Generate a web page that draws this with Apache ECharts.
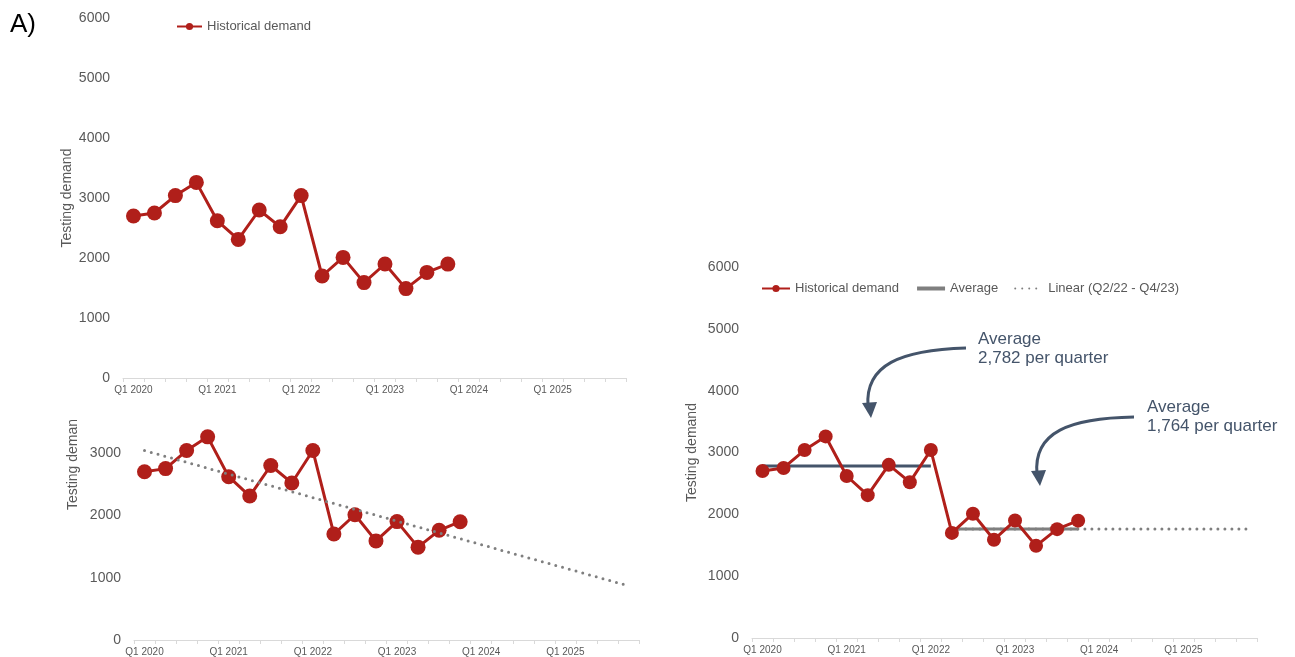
<!DOCTYPE html>
<html>
<head>
<meta charset="utf-8">
<title>Testing demand</title>
<script src="https://cdn.jsdelivr.net/npm/echarts@6/dist/echarts.min.js"></script>
<style>
  html, body { margin: 0; padding: 0; background: #ffffff; }
  #chart { width: 1295px; height: 657px; }
</style>
</head>
<body>
<div id="chart"></div>
<script>
// Quarter categories along the time axis (history plus forecast horizon)
const quarters = [
  'Q1 2020', 'Q2 2020', 'Q3 2020', 'Q4 2020',
  'Q1 2021', 'Q2 2021', 'Q3 2021', 'Q4 2021',
  'Q1 2022', 'Q2 2022', 'Q3 2022', 'Q4 2022',
  'Q1 2023', 'Q2 2023', 'Q3 2023', 'Q4 2023',
  'Q1 2024', 'Q2 2024', 'Q3 2024', 'Q4 2024',
  'Q1 2025', 'Q2 2025', 'Q3 2025', 'Q4 2025'
];

// Historical testing demand per quarter, Q1 2020 .. Q4 2023
const demand = [2700, 2750, 3040, 3260, 2620, 2310, 2800, 2520, 3040,
                1700, 2010, 1590, 1900, 1490, 1760, 1898];

// Period averages and the periods they cover
const averageEarly = 2782;
const earlyPeriod = ['Q1 2020', 'Q1 2022'];
const averageLate = 1764;
const latePeriod = ['Q2 2022', 'Q4 2023'];
const forecastEnd = 'Q4 2025';

// Linear trend over the full history, extended to the end of the horizon
const trendEnds = [3040, 870];

// Y-axis tick settings
const yTickStep = 1000;
const yMaxFull = 6000;
const yMaxCropped = 3530;

const RED = '#B01F1A';
const SLATE = '#44546A';
const GRAY = '#7F7F7F';
const TEXT = '#595959';
const FONT = '"Liberation Sans", Arial, Helvetica, sans-serif';

function xAxisFor(gridIndex) {
  return {
    type: 'category', gridIndex: gridIndex, data: quarters, boundaryGap: true,
    axisLine: { lineStyle: { color: '#D9D9D9', width: 1 } },
    axisTick: { show: true, interval: 0, length: 4, lineStyle: { color: '#D9D9D9' } },
    axisLabel: { interval: 3, color: TEXT, fontSize: 10, fontFamily: FONT, margin: 7 },
    splitLine: { show: false }
  };
}

function yAxisFor(gridIndex, max, withName, nameGap) {
  return {
    type: 'value', gridIndex: gridIndex, min: 0, max: max, interval: yTickStep,
    splitLine: { show: false }, axisLine: { show: false }, axisTick: { show: false },
    axisLabel: {
      color: TEXT, fontSize: 14, fontFamily: FONT, margin: 13,
      showMaxLabel: max % yTickStep === 0,
      formatter: function (v) { return String(v); }
    },
    name: withName ? 'Testing demand' : '',
    nameLocation: 'middle', nameGap: nameGap,
    nameTextStyle: { color: TEXT, fontSize: 14, fontFamily: FONT }
  };
}

function historySeries(axisIndex, size) {
  return {
    name: 'Historical demand', type: 'line',
    xAxisIndex: axisIndex, yAxisIndex: axisIndex,
    data: demand,
    symbol: 'circle', symbolSize: size, showAllSymbol: true,
    lineStyle: { color: RED, width: 3 },
    itemStyle: { color: RED },
    z: 5, animation: false
  };
}

const legendText = { color: TEXT, fontSize: 13, fontFamily: FONT };
const hiddenDot = { color: 'rgba(0,0,0,0)', opacity: 0, borderWidth: 0 };

const option = {
  backgroundColor: '#ffffff',
  animation: false,
  textStyle: { fontFamily: FONT },
  grid: [
    { left: 123, top: 18, width: 503, height: 360 },
    { left: 134, top: 420, width: 505, height: 220 },
    { left: 752, top: 267, width: 505, height: 371 }
  ],
  xAxis: [xAxisFor(0), xAxisFor(1), xAxisFor(2)],
  yAxis: [
    yAxisFor(0, yMaxFull, true, 49),
    yAxisFor(1, yMaxCropped, false, 0),
    yAxisFor(2, yMaxFull, true, 53)
  ],
  legend: [
    {
      left: 171, top: 15, itemWidth: 25, itemHeight: 9, itemGap: 16,
      textStyle: legendText,
      data: ['Historical demand']
    },
    {
      left: 756, top: 277, itemWidth: 28, itemHeight: 9, itemGap: 16,
      textStyle: legendText,
      data: [
        'Historical demand',
        { name: 'Average', itemStyle: hiddenDot, lineStyle: { width: 4 } },
        { name: 'Linear (Q2/22 - Q4/23)', itemStyle: hiddenDot }
      ]
    }
  ],
  series: [
    // top-left: history only
    historySeries(0, 15),

    // bottom-left: history with linear trend
    historySeries(1, 15),
    {
      name: 'Linear trend', type: 'line', xAxisIndex: 1, yAxisIndex: 1,
      data: [[quarters[0], trendEnds[0]], [forecastEnd, trendEnds[1]]],
      symbol: 'none',
      lineStyle: { color: GRAY, width: 3, type: [0, 7], cap: 'round' },
      z: 6, silent: true
    },

    // right: history with period averages
    {
      name: 'Average Q1/20 - Q1/22', type: 'line', xAxisIndex: 2, yAxisIndex: 2,
      data: [[earlyPeriod[0], averageEarly], [earlyPeriod[1], averageEarly]],
      symbol: 'none', lineStyle: { color: SLATE, width: 3 }, z: 3
    },
    {
      name: 'Linear (Q2/22 - Q4/23)', type: 'line', xAxisIndex: 2, yAxisIndex: 2,
      data: [[latePeriod[0], averageLate], [forecastEnd, averageLate]],
      symbol: 'none',
      itemStyle: { color: GRAY },
      lineStyle: { color: GRAY, width: 3, type: [0, 7], cap: 'round' }, z: 3
    },
    {
      name: 'Average', type: 'line', xAxisIndex: 2, yAxisIndex: 2,
      data: [[latePeriod[0], averageLate], [latePeriod[1], averageLate]],
      symbol: 'none',
      itemStyle: { color: GRAY },
      lineStyle: { color: GRAY, width: 3 }, z: 4
    },
    historySeries(2, 14)
  ],
  graphic: [
    {
      type: 'text', left: 10, top: 12,
      style: { text: 'A)', fontSize: 26, fontFamily: FONT, fill: '#000000' }
    },
    {
      type: 'text', x: 73, y: 510, rotation: Math.PI / 2,
      style: { text: 'Testing deman', fontSize: 14, fontFamily: FONT, fill: TEXT,
               align: 'left', verticalAlign: 'middle' }
    },
    {
      type: 'text', x: 978, y: 330,
      style: { text: 'Average\n' + averageEarly.toLocaleString('en-US') + ' per quarter',
               fontSize: 17, lineHeight: 19, fontFamily: FONT, fill: SLATE }
    },
    {
      type: 'text', x: 1147, y: 398,
      style: { text: 'Average\n' + averageLate.toLocaleString('en-US') + ' per quarter',
               fontSize: 17, lineHeight: 19, fontFamily: FONT, fill: SLATE }
    },
    {
      type: 'bezierCurve',
      shape: { x1: 966, y1: 348, cpx1: 900, cpy1: 350, cpx2: 865, cpy2: 365, x2: 868, y2: 406 },
      style: { stroke: SLATE, lineWidth: 3, fill: null }
    },
    {
      type: 'polygon',
      shape: { points: [[871, 418], [862, 403], [877, 402]] },
      style: { fill: SLATE }
    },
    {
      type: 'bezierCurve',
      shape: { x1: 1134, y1: 417, cpx1: 1070, cpy1: 418, cpx2: 1033, cpy2: 432, x2: 1037, y2: 474 },
      style: { stroke: SLATE, lineWidth: 3, fill: null }
    },
    {
      type: 'polygon',
      shape: { points: [[1040, 486], [1031, 471], [1046, 470]] },
      style: { fill: SLATE }
    }
  ]
};

const chart = echarts.init(document.getElementById('chart'), null, { renderer: 'canvas' });
chart.setOption(option);
</script>
</body>
</html>
